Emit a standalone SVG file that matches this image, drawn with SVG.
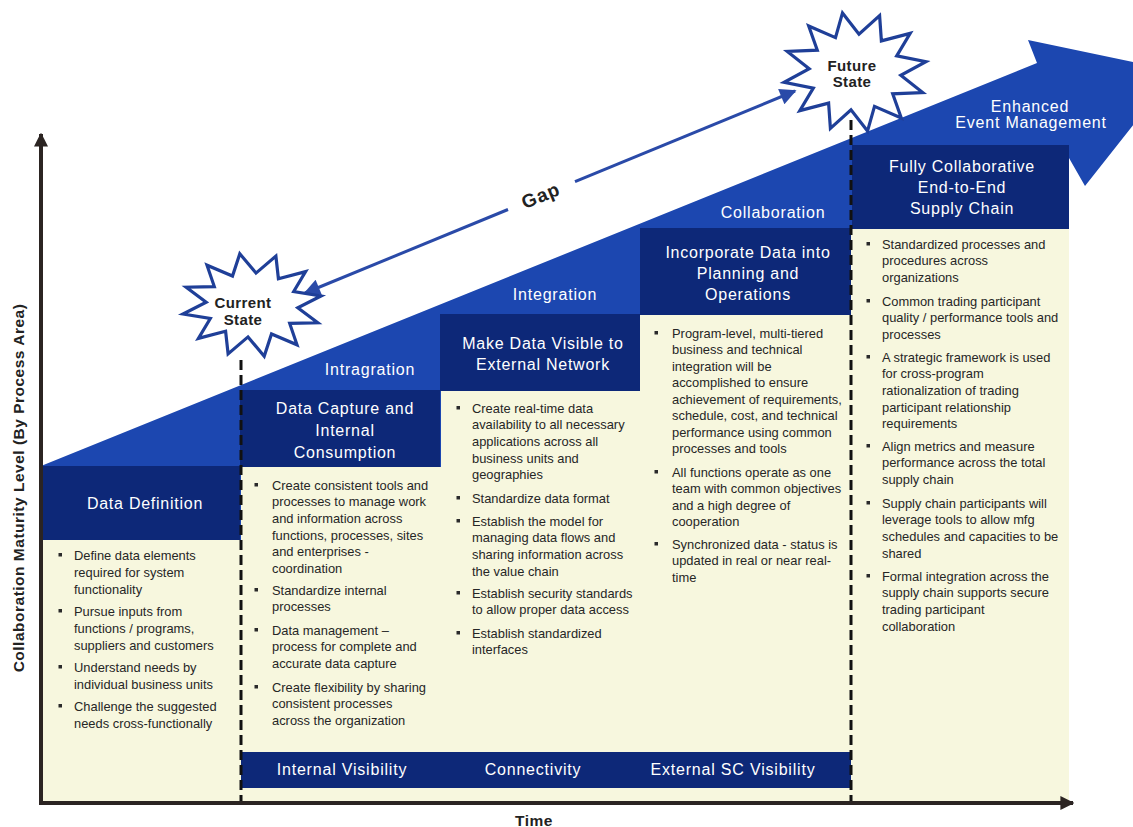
<svg xmlns="http://www.w3.org/2000/svg" width="1133" height="827" viewBox="0 0 1133 827">
<defs>
<style>
.hd{font-family:"Liberation Sans",Arial,sans-serif;font-size:16px;fill:#ffffff;text-anchor:middle;letter-spacing:0.75px}
.rl{font-family:"Liberation Sans",Arial,sans-serif;font-size:16px;fill:#ffffff;text-anchor:middle;letter-spacing:0.8px}
.bt{font-family:"Liberation Sans",Arial,sans-serif;font-size:12.9px;fill:#262626}
.st{font-family:"Liberation Sans",Arial,sans-serif;font-size:15px;font-weight:bold;fill:#222;text-anchor:middle;letter-spacing:0.4px}
.ax{font-family:"Liberation Sans",Arial,sans-serif;font-size:15.5px;font-weight:bold;fill:#222;text-anchor:middle;letter-spacing:0.5px}
.hdr{fill:#0d2878}
.body{fill:#f7f7de}
.star{fill:#ffffff;stroke:#1f3f98;stroke-width:3.2;stroke-linejoin:miter}
.dash{stroke:#111;stroke-width:3;stroke-dasharray:10 5;fill:none}
.bul{fill:#2a2a2a}
</style>
<marker id="ah" viewBox="0 0 10 10" refX="9" refY="5" markerWidth="6" markerHeight="5.5" orient="auto-start-reverse" markerUnits="strokeWidth">
<path d="M0,0 L10,5 L0,10 Z" fill="#2a4aa8"/>
</marker>
<marker id="axh" viewBox="0 0 10 10" refX="9" refY="5" markerWidth="3.5" markerHeight="3.5" orient="auto" markerUnits="strokeWidth">
<path d="M0,0 L10,5 L0,10 Z" fill="#2b2422"/>
</marker>
<rect id="b" width="3.5" height="3.5"/>
</defs>
<rect width="1133" height="827" fill="#ffffff"/>

<g id="ramp">
<polygon points="41,466 1037,63 1028,40 1176,71 1085,186 1069,158 1069,803 41,803" fill="#1c47b0"/>
</g>

<g id="col1">
<rect class="body" x="41" y="540" width="200" height="263"/>
<rect class="hdr" x="43" y="466" width="197" height="74"/>
<text class="hd" x="145" y="508.5">Data Definition</text>
<g class="bul">
<use href="#b" x="58.5" y="553"/><use href="#b" x="58.5" y="609"/><use href="#b" x="58.5" y="665"/><use href="#b" x="58.5" y="704"/>
</g>
<text class="bt"><tspan x="74" y="559.5">Define data elements</tspan><tspan x="74" dy="17">required for system</tspan><tspan x="74" dy="17">functionality</tspan></text>
<text class="bt"><tspan x="74" y="615.5">Pursue inputs from</tspan><tspan x="74" dy="17">functions / programs,</tspan><tspan x="74" dy="17">suppliers and customers</tspan></text>
<text class="bt"><tspan x="74" y="671.5">Understand needs by</tspan><tspan x="74" dy="17">individual business units</tspan></text>
<text class="bt"><tspan x="74" y="710.5">Challenge the suggested</tspan><tspan x="74" dy="17">needs cross-functionally</tspan></text>
</g>

<g id="col2">
<rect class="body" x="241" y="467" width="200" height="336"/>
<rect class="hdr" x="240" y="390" width="200" height="77"/>
<text class="rl" x="370" y="374.5">Intragration</text>
<text class="hd"><tspan x="345" y="413.5">Data Capture and</tspan><tspan x="345" dy="22">Internal</tspan><tspan x="345" dy="22">Consumption</tspan></text>
<g class="bul">
<use href="#b" x="254.5" y="483"/><use href="#b" x="254.5" y="588"/><use href="#b" x="254.5" y="628"/><use href="#b" x="254.5" y="685"/>
</g>
<text class="bt"><tspan x="272" y="489.5">Create consistent tools and</tspan><tspan x="272" dy="16.7">processes to manage work</tspan><tspan x="272" dy="16.7">and information across</tspan><tspan x="272" dy="16.7">functions, processes, sites</tspan><tspan x="272" dy="16.7">and enterprises -</tspan><tspan x="272" dy="16.7">coordination</tspan></text>
<text class="bt"><tspan x="272" y="594.5">Standardize internal</tspan><tspan x="272" dy="16.7">processes</tspan></text>
<text class="bt"><tspan x="272" y="634.5">Data management –</tspan><tspan x="272" dy="16.7">process for complete and</tspan><tspan x="272" dy="16.7">accurate data capture</tspan></text>
<text class="bt"><tspan x="272" y="691.5">Create flexibility by sharing</tspan><tspan x="272" dy="16.7">consistent processes</tspan><tspan x="272" dy="16.7">across the organization</tspan></text>
</g>

<g id="col3">
<rect class="body" x="441" y="391" width="199" height="412"/>
<rect class="hdr" x="440" y="314" width="200" height="77"/>
<text class="rl" x="555" y="299.5">Integration</text>
<text class="hd"><tspan x="543" y="348.5">Make Data Visible to</tspan><tspan x="543" dy="21">External Network</tspan></text>
<g class="bul">
<use href="#b" x="456.5" y="406"/><use href="#b" x="456.5" y="496"/><use href="#b" x="456.5" y="519"/><use href="#b" x="456.5" y="591"/><use href="#b" x="456.5" y="631"/>
</g>
<text class="bt"><tspan x="472" y="412.5">Create real-time data</tspan><tspan x="472" dy="16.7">availability to all necessary</tspan><tspan x="472" dy="16.7">applications across all</tspan><tspan x="472" dy="16.7">business units and</tspan><tspan x="472" dy="16.7">geographies</tspan></text>
<text class="bt"><tspan x="472" y="502.5">Standardize data format</tspan></text>
<text class="bt"><tspan x="472" y="525.5">Establish the model for</tspan><tspan x="472" dy="16.7">managing data flows and</tspan><tspan x="472" dy="16.7">sharing information across</tspan><tspan x="472" dy="16.7">the value chain</tspan></text>
<text class="bt"><tspan x="472" y="597.5">Establish security standards</tspan><tspan x="472" dy="16.7">to allow proper data access</tspan></text>
<text class="bt"><tspan x="472" y="637.5">Establish standardized</tspan><tspan x="472" dy="16.7">interfaces</tspan></text>
</g>

<g id="col4">
<rect class="body" x="640" y="315" width="211" height="488"/>
<rect class="hdr" x="640" y="228" width="212" height="87"/>
<text class="rl" x="773" y="217.5">Collaboration</text>
<text class="hd"><tspan x="748" y="257.5">Incorporate Data into</tspan><tspan x="748" dy="21">Planning and</tspan><tspan x="748" dy="21">Operations</tspan></text>
<g class="bul">
<use href="#b" x="654.5" y="331"/><use href="#b" x="654.5" y="470"/><use href="#b" x="654.5" y="542"/>
</g>
<text class="bt"><tspan x="672" y="337.5">Program-level, multi-tiered</tspan><tspan x="672" dy="16.5">business and technical</tspan><tspan x="672" dy="16.5">integration will be</tspan><tspan x="672" dy="16.5">accomplished to ensure</tspan><tspan x="672" dy="16.5">achievement of requirements,</tspan><tspan x="672" dy="16.5">schedule, cost, and technical</tspan><tspan x="672" dy="16.5">performance using common</tspan><tspan x="672" dy="16.5">processes and tools</tspan></text>
<text class="bt"><tspan x="672" y="476.5">All functions operate as one</tspan><tspan x="672" dy="16.5">team with common objectives</tspan><tspan x="672" dy="16.5">and a high degree of</tspan><tspan x="672" dy="16.5">cooperation</tspan></text>
<text class="bt"><tspan x="672" y="548.5">Synchronized data - status is</tspan><tspan x="672" dy="16.5">updated in real or near real-</tspan><tspan x="672" dy="16.5">time</tspan></text>
</g>

<g id="col5">
<rect class="body" x="851" y="229" width="218" height="574"/>
<rect class="hdr" x="852" y="145" width="217" height="84"/>
<text class="rl"><tspan x="1030" y="112">Enhanced</tspan><tspan x="1031" y="128">Event Management</tspan></text>
<text class="hd"><tspan x="962" y="171.5">Fully Collaborative</tspan><tspan x="962" dy="21">End-to-End</tspan><tspan x="962" dy="21">Supply Chain</tspan></text>
<g class="bul">
<use href="#b" x="866.5" y="242"/><use href="#b" x="866.5" y="299"/><use href="#b" x="866.5" y="355"/><use href="#b" x="866.5" y="444"/><use href="#b" x="866.5" y="501"/><use href="#b" x="866.5" y="574"/>
</g>
<text class="bt"><tspan x="882" y="248.5">Standardized processes and</tspan><tspan x="882" dy="16.7">procedures across</tspan><tspan x="882" dy="16.7">organizations</tspan></text>
<text class="bt"><tspan x="882" y="305.5">Common trading participant</tspan><tspan x="882" dy="16.7">quality / performance tools and</tspan><tspan x="882" dy="16.7">processes</tspan></text>
<text class="bt"><tspan x="882" y="361.5">A strategic framework is used</tspan><tspan x="882" dy="16.7">for cross-program</tspan><tspan x="882" dy="16.7">rationalization of trading</tspan><tspan x="882" dy="16.7">participant relationship</tspan><tspan x="882" dy="16.7">requirements</tspan></text>
<text class="bt"><tspan x="882" y="450.5">Align metrics and  measure</tspan><tspan x="882" dy="16.7">performance across the total</tspan><tspan x="882" dy="16.7">supply chain</tspan></text>
<text class="bt"><tspan x="882" y="507.5">Supply chain participants will</tspan><tspan x="882" dy="16.7">leverage tools to allow mfg</tspan><tspan x="882" dy="16.7">schedules and capacities to be</tspan><tspan x="882" dy="16.7">shared</tspan></text>
<text class="bt"><tspan x="882" y="580.5">Formal integration across the</tspan><tspan x="882" dy="16.7">supply chain supports secure</tspan><tspan x="882" dy="16.7">trading participant</tspan><tspan x="882" dy="16.7">collaboration</tspan></text>
</g>

<g id="bottom-bar">
<rect class="hdr" x="241" y="752" width="610" height="36"/>
<text class="rl" x="342" y="775">Internal Visibility</text>
<text class="rl" x="533" y="775">Connectivity</text>
<text class="rl" x="733" y="775">External SC Visibility</text>
</g>

<g id="connectors">
<line class="dash" x1="241" y1="360" x2="241" y2="803"/>
<line class="dash" x1="851" y1="120" x2="851" y2="803"/>
<line x1="305" y1="293" x2="508" y2="209.5" stroke="#2a4aa8" stroke-width="3" marker-start="url(#ah)"/>
<line x1="575" y1="181.7" x2="795" y2="91" stroke="#2a4aa8" stroke-width="3" marker-end="url(#ah)"/>
<text x="541" y="202" transform="rotate(-22.4 541 196)" style="font-family:'Liberation Sans',Arial,sans-serif;font-size:19px;font-weight:bold;fill:#222;text-anchor:middle;letter-spacing:1px">Gap</text>
</g>

<g id="current-state">
<polygon class="star" points="239.8,253.8 256,273.1 275.9,256.1 278.4,278.8 305.6,271.6 293.7,291.5 321,296 297.8,307.8 317.8,322.8 289.7,323.4 297,344.8 271.5,334 264.2,356.2 248,336.9 228.1,353.9 225.6,331.2 198.4,338.4 210.3,318.5 183,314 206.2,302.2 186.2,287.2 214.3,286.6 207,265.2 232.5,276"/>
<text class="st"><tspan x="243" y="308">Current</tspan><tspan x="243" y="325">State</tspan></text>
</g>

<g id="future-state">
<polygon class="star" points="842.5,12.9 859,34.2 879.6,15.6 881.4,40.9 910.2,33.4 896.7,55.9 925.9,61.6 900.8,75.3 922.7,92.5 892.7,93.8 901.3,118 874.5,106.4 867.5,131.1 851,109.8 830.4,128.4 828.6,103.1 799.8,110.6 813.3,88.1 784.1,82.4 809.2,68.7 787.3,51.5 817.3,50.2 808.7,26 835.5,37.6"/>
<text class="st"><tspan x="852" y="71">Future</tspan><tspan x="852" y="87">State</tspan></text>
</g>

<g id="axes">
<line x1="41" y1="805" x2="41" y2="134" stroke="#2b2422" stroke-width="4" marker-end="url(#axh)"/>
<line x1="39" y1="803" x2="1073" y2="803" stroke="#2b2422" stroke-width="4" marker-end="url(#axh)"/>
<text class="ax" transform="rotate(-90 18 488)" x="18" y="493.5">Collaboration Maturity Level (By Process Area)</text>
<text class="ax" x="534" y="826">Time</text>
</g>
</svg>
